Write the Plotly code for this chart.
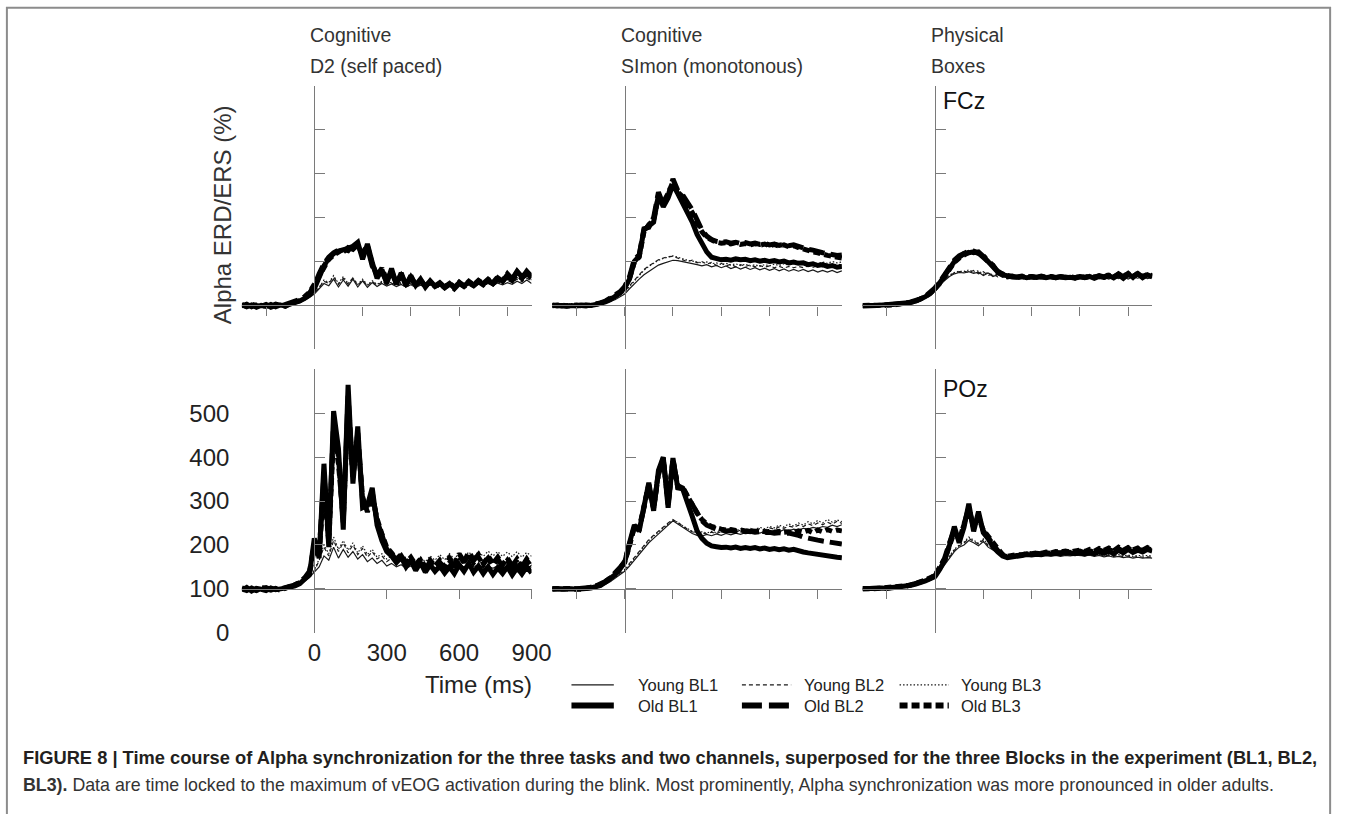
import plotly.graph_objects as go

W, H = 1358, 814

# ---------------- data ----------------
time_ms = [-300, -280, -260, -240, -220, -200, -180, -160, -140, -120, -100,
           -80, -60, -40, -20, 0, 20, 40, 60, 80, 100,
           120, 140, 160, 180, 200, 220, 240, 260, 280, 300,
           320, 340, 360, 380, 400, 420, 440, 460, 480, 500,
           520, 540, 560, 580, 600, 620, 640, 660, 680, 700,
           720, 740, 760, 780, 800, 820, 840, 860, 880, 900]

series_names = ["Young BL1", "Young BL2", "Young BL3", "Old BL1", "Old BL2", "Old BL3"]
task_titles = [("Cognitive", "D2 (self paced)"),
               ("Cognitive", "SImon (monotonous)"),
               ("Physical", "Boxes")]
channel_labels = ["FCz", "POz"]
x_tick_labels = ["0", "300", "600", "900"]
y_tick_labels = ["0", "100", "200", "300", "400", "500"]

# --- D2, FCz ---
d2_fcz_young_bl1 = [101, 99, 100, 98, 100, 101, 99, 100, 101, 102, 103,
                    105, 108, 112, 118, 126, 138, 150, 145, 160, 142,
                    158, 144, 160, 142, 156, 141, 152, 143, 150, 144,
                    149, 143, 148, 142, 147, 141, 146, 142, 147, 143,
                    146, 142, 147, 144, 148, 143, 147, 144, 149, 145,
                    150, 146, 151, 147, 152, 148, 155, 150, 158, 150]
d2_fcz_young_bl2 = [100, 101, 99, 100, 102, 100, 99, 101, 100, 103, 104,
                    106, 109, 114, 120, 128, 142, 155, 150, 165, 148,
                    162, 148, 163, 146, 158, 145, 155, 146, 153, 147,
                    151, 146, 150, 145, 149, 144, 148, 145, 150, 146,
                    149, 145, 150, 147, 151, 146, 150, 148, 152, 149,
                    153, 149, 155, 151, 157, 152, 160, 154, 162, 156]
d2_fcz_young_bl3 = [99, 100, 101, 99, 100, 102, 100, 99, 102, 101, 104,
                    105, 110, 113, 119, 130, 140, 158, 152, 168, 150,
                    166, 150, 162, 148, 160, 147, 156, 148, 155, 149,
                    153, 148, 152, 147, 151, 146, 150, 147, 152, 148,
                    151, 147, 152, 149, 153, 148, 152, 150, 154, 151,
                    155, 151, 157, 153, 160, 155, 163, 157, 166, 158]
d2_fcz_old_bl1 = [102, 97, 101, 96, 100, 98, 102, 97, 101, 99, 103,
                  106, 110, 116, 124, 138, 165, 190, 208, 218, 224,
                  226, 230, 235, 244, 205, 240, 198, 162, 182, 150,
                  184, 148, 174, 145, 168, 146, 160, 142, 156, 144,
                  152, 142, 150, 140, 152, 145, 153, 146, 156, 148,
                  158, 150, 163, 155, 170, 160, 178, 165, 175, 162]
d2_fcz_old_bl2 = [99, 103, 97, 101, 98, 102, 96, 100, 98, 102, 104,
                  107, 112, 118, 128, 145, 172, 195, 210, 220, 226,
                  222, 232, 228, 238, 214, 232, 190, 170, 176, 155,
                  178, 152, 170, 147, 165, 148, 158, 144, 154, 142,
                  150, 140, 148, 138, 150, 143, 151, 145, 154, 147,
                  156, 149, 160, 152, 166, 157, 172, 162, 178, 166]
d2_fcz_old_bl3 = [101, 98, 103, 99, 97, 101, 99, 103, 100, 98, 105,
                  108, 111, 120, 130, 148, 168, 188, 205, 215, 220,
                  228, 225, 238, 235, 220, 236, 195, 168, 185, 158,
                  175, 150, 168, 149, 162, 146, 157, 145, 153, 143,
                  149, 141, 151, 142, 153, 144, 155, 147, 157, 150,
                  160, 152, 165, 156, 172, 160, 176, 163, 172, 168]

# --- Simon, FCz ---
simon_fcz_young_bl1 = [100, 100, 99, 100, 101, 100, 100, 101, 101, 102, 104,
                       106, 109, 113, 119, 126, 138, 150, 160, 170, 178,
                       185, 192, 196, 200, 203, 202, 200, 197, 195, 193,
                       190, 193, 188, 191, 186, 190, 184, 188, 183, 187,
                       182, 186, 181, 185, 180, 184, 179, 183, 178, 182,
                       178, 182, 177, 181, 176, 180, 176, 180, 175, 179]
simon_fcz_young_bl2 = [100, 101, 100, 99, 100, 101, 100, 100, 102, 103, 105,
                       108, 112, 117, 124, 132, 145, 158, 170, 182, 190,
                       198, 204, 208, 211, 212, 208, 205, 200, 203, 197,
                       200, 194, 198, 191, 196, 190, 194, 188, 193, 189,
                       192, 188, 191, 187, 190, 186, 189, 185, 189, 186,
                       189, 186, 190, 187, 191, 188, 193, 190, 195, 192]
simon_fcz_young_bl3 = [99, 100, 100, 101, 100, 99, 101, 100, 101, 103, 105,
                       108, 111, 116, 123, 131, 143, 156, 168, 180, 189,
                       197, 203, 207, 210, 213, 210, 206, 203, 201, 199,
                       197, 199, 195, 197, 193, 196, 192, 195, 191, 194,
                       190, 193, 189, 193, 190, 194, 191, 195, 192, 196,
                       193, 197, 194, 198, 195, 199, 196, 200, 197, 199]
simon_fcz_old_bl1 = [101, 99, 100, 98, 100, 99, 101, 100, 100, 102, 104,
                     108, 113, 120, 128, 140, 160, 200, 212, 272, 282,
                     290, 352, 325, 345, 375, 355, 335, 315, 290, 262,
                     240, 222, 210, 206, 204, 205, 203, 206, 204, 205,
                     202, 204, 201, 203, 200, 202, 199, 201, 197, 199,
                     196, 197, 193, 195, 191, 193, 189, 191, 187, 189]
simon_fcz_old_bl2 = [100, 101, 99, 100, 99, 101, 100, 99, 101, 103, 106,
                     110, 116, 122, 131, 143, 165, 205, 215, 275, 278,
                     300, 358, 330, 350, 388, 362, 352, 335, 318, 295,
                     272, 258, 250, 246, 244, 245, 242, 244, 241, 243,
                     240, 242, 239, 241, 238, 240, 237, 239, 236, 238,
                     234, 232, 228, 226, 222, 220, 218, 216, 214, 215]
simon_fcz_old_bl3 = [99, 100, 101, 99, 100, 100, 99, 101, 100, 102, 105,
                     109, 114, 121, 129, 141, 162, 198, 210, 268, 284,
                     295, 348, 335, 355, 382, 358, 348, 330, 312, 288,
                     268, 255, 248, 244, 242, 243, 240, 243, 239, 241,
                     238, 241, 237, 240, 236, 239, 235, 238, 234, 236,
                     232, 228, 225, 222, 220, 216, 214, 212, 210, 208]

# --- Boxes, FCz ---
boxes_fcz_young_bl1 = [100, 100, 100, 101, 100, 100, 101, 102, 103, 104, 106,
                       108, 112, 117, 124, 132, 145, 157, 166, 172, 175,
                       174, 177, 173, 176, 168, 174, 166, 170, 164, 167,
                       163, 166, 162, 165, 162, 164, 161, 164, 162, 164,
                       161, 164, 162, 163, 161, 164, 162, 165, 161, 164,
                       160, 165, 161, 166, 160, 165, 162, 166, 161, 164]
boxes_fcz_young_bl2 = [100, 101, 100, 100, 101, 100, 101, 102, 103, 105, 107,
                       109, 113, 118, 125, 134, 147, 159, 168, 174, 177,
                       178, 175, 180, 172, 177, 168, 172, 165, 168, 164,
                       166, 163, 165, 162, 164, 162, 165, 163, 164, 162,
                       165, 162, 164, 163, 165, 162, 166, 163, 165, 162,
                       166, 163, 167, 162, 168, 163, 167, 164, 168, 165]
boxes_fcz_young_bl3 = [101, 100, 100, 100, 100, 101, 101, 102, 104, 105, 107,
                       109, 114, 119, 126, 135, 148, 160, 169, 175, 178,
                       177, 181, 176, 179, 171, 175, 168, 171, 166, 168,
                       165, 167, 164, 166, 163, 166, 164, 166, 163, 166,
                       164, 166, 163, 167, 164, 166, 163, 167, 164, 168,
                       165, 168, 164, 169, 165, 170, 166, 170, 165, 168]
boxes_fcz_old_bl1 = [100, 99, 100, 100, 101, 100, 101, 102, 103, 105, 107,
                     110, 114, 120, 128, 138, 152, 168, 185, 200, 210,
                     218, 220, 222, 219, 210, 200, 188, 176, 170, 166,
                     165, 164, 166, 163, 165, 164, 166, 163, 165, 163,
                     165, 163, 164, 162, 165, 163, 166, 162, 166, 164,
                     168, 163, 170, 162, 171, 165, 172, 163, 170, 165]
boxes_fcz_old_bl2 = [99, 100, 101, 100, 100, 101, 100, 102, 104, 105, 108,
                     111, 115, 121, 129, 140, 154, 170, 188, 203, 213,
                     220, 224, 220, 222, 212, 203, 190, 178, 171, 167,
                     166, 165, 167, 164, 166, 164, 167, 164, 166, 164,
                     166, 164, 165, 163, 166, 164, 167, 164, 168, 165,
                     170, 164, 172, 165, 174, 166, 173, 165, 172, 167]
boxes_fcz_old_bl3 = [100, 100, 99, 101, 100, 100, 101, 102, 103, 104, 107,
                     110, 114, 120, 127, 137, 150, 166, 183, 198, 208,
                     215, 221, 224, 218, 214, 198, 192, 175, 172, 165,
                     167, 163, 166, 164, 166, 163, 165, 164, 166, 163,
                     165, 164, 166, 163, 167, 164, 166, 165, 167, 164,
                     169, 165, 171, 166, 173, 164, 174, 166, 171, 168]

# --- D2, POz ---
d2_poz_young_bl1 = [98, 102, 99, 101, 100, 98, 101, 99, 100, 102, 103,
                    106, 110, 118, 126, 138, 150, 175, 165, 195, 170,
                    190, 172, 185, 168, 178, 162, 170, 158, 165, 152,
                    158, 150, 155, 147, 152, 146, 150, 145, 152, 146,
                    151, 147, 153, 148, 155, 150, 157, 151, 154, 149,
                    152, 147, 153, 148, 151, 147, 152, 148, 153, 149]
d2_poz_young_bl2 = [100, 99, 101, 98, 102, 100, 99, 101, 100, 103, 104,
                    107, 112, 120, 128, 140, 165, 195, 175, 210, 185,
                    205, 182, 200, 178, 192, 172, 185, 168, 175, 162,
                    170, 158, 165, 155, 162, 153, 160, 152, 162, 155,
                    163, 156, 165, 158, 168, 160, 170, 162, 172, 162,
                    170, 160, 168, 158, 166, 157, 165, 156, 164, 158]
d2_poz_young_bl3 = [101, 100, 98, 100, 99, 101, 100, 98, 101, 102, 105,
                    108, 113, 121, 130, 142, 168, 200, 180, 218, 190,
                    210, 188, 205, 182, 198, 178, 190, 172, 180, 168,
                    175, 165, 172, 162, 170, 160, 172, 162, 175, 165,
                    178, 166, 180, 168, 182, 170, 184, 172, 185, 174,
                    186, 175, 185, 174, 184, 173, 185, 172, 183, 174]
d2_poz_old_bl1 = [97, 103, 95, 101, 99, 96, 102, 98, 100, 101, 104,
                  107, 112, 122, 132, 215, 170, 385, 195, 505, 420,
                  235, 565, 340, 470, 285, 290, 330, 245, 210, 185,
                  175, 160, 172, 150, 165, 142, 160, 138, 155, 140,
                  152, 136, 150, 135, 155, 140, 158, 138, 152, 135,
                  150, 133, 148, 135, 150, 132, 148, 134, 150, 136]
d2_poz_old_bl2 = [100, 96, 102, 97, 103, 99, 97, 101, 99, 103, 106,
                  109, 115, 125, 140, 200, 180, 360, 210, 480, 400,
                  250, 540, 355, 455, 300, 285, 320, 255, 220, 190,
                  180, 165, 175, 158, 170, 150, 165, 145, 162, 148,
                  160, 145, 165, 150, 175, 160, 185, 165, 178, 158,
                  170, 152, 168, 150, 165, 148, 166, 150, 168, 152]
d2_poz_old_bl3 = [102, 98, 100, 96, 101, 103, 98, 100, 97, 101, 105,
                  108, 114, 124, 136, 190, 175, 340, 205, 455, 385,
                  260, 510, 360, 440, 310, 275, 310, 260, 225, 195,
                  182, 168, 178, 160, 172, 155, 168, 150, 165, 152,
                  165, 150, 170, 155, 180, 162, 178, 160, 172, 155,
                  175, 158, 172, 155, 170, 152, 168, 150, 165, 150]

# --- Simon, POz ---
simon_poz_young_bl1 = [100, 100, 99, 100, 100, 101, 100, 101, 102, 104, 106,
                       110, 116, 124, 132, 140, 152, 165, 178, 192, 205,
                       215, 225, 235, 245, 255, 248, 240, 232, 226, 222,
                       220, 224, 221, 225, 222, 226, 223, 227, 224, 228,
                       226, 229, 227, 231, 229, 233, 230, 235, 232, 236,
                       234, 238, 236, 240, 238, 242, 240, 245, 242, 246]
simon_poz_young_bl2 = [100, 101, 100, 100, 101, 100, 101, 102, 103, 105, 108,
                       112, 118, 126, 135, 144, 158, 172, 185, 200, 212,
                       222, 232, 242, 250, 258, 250, 242, 236, 230, 226,
                       228, 225, 229, 226, 230, 227, 232, 229, 234, 231,
                       235, 232, 237, 234, 239, 236, 241, 238, 243, 240,
                       245, 242, 248, 244, 250, 246, 252, 247, 254, 249]
simon_poz_young_bl3 = [99, 100, 100, 101, 100, 100, 100, 101, 103, 104, 107,
                       111, 117, 125, 133, 142, 155, 170, 183, 197, 210,
                       220, 230, 240, 248, 256, 252, 244, 237, 231, 228,
                       230, 227, 231, 228, 233, 230, 235, 232, 237, 234,
                       238, 235, 240, 237, 242, 239, 245, 241, 248, 243,
                       250, 245, 253, 248, 256, 250, 258, 252, 257, 253]
simon_poz_old_bl1 = [100, 101, 99, 100, 100, 99, 101, 101, 102, 105, 108,
                     115, 122, 132, 145, 160, 205, 245, 232, 290, 342,
                     278, 370, 400, 285, 398, 330, 328, 300, 265, 232,
                     215, 204, 198, 196, 194, 195, 193, 195, 192, 194,
                     192, 194, 191, 193, 190, 192, 189, 191, 188, 190,
                     186, 184, 182, 180, 178, 176, 175, 173, 172, 171]
simon_poz_old_bl2 = [99, 100, 101, 100, 99, 100, 100, 102, 103, 106, 110,
                     117, 125, 135, 148, 162, 200, 240, 235, 285, 335,
                     285, 360, 395, 295, 392, 335, 330, 310, 290, 270,
                     255, 245, 240, 236, 234, 232, 233, 231, 232, 230,
                     231, 229, 230, 228, 229, 227, 228, 226, 227, 225,
                     222, 218, 215, 213, 211, 209, 207, 205, 203, 202]
simon_poz_old_bl3 = [100, 99, 100, 101, 100, 100, 99, 101, 103, 105, 109,
                     116, 123, 133, 146, 161, 198, 242, 238, 288, 338,
                     282, 365, 398, 292, 395, 332, 332, 312, 292, 272,
                     258, 248, 242, 238, 236, 234, 235, 233, 234, 232,
                     233, 231, 232, 230, 231, 229, 231, 229, 230, 228,
                     232, 229, 233, 228, 234, 230, 235, 231, 234, 232]

# --- Boxes, POz ---
boxes_poz_young_bl1 = [100, 100, 101, 100, 100, 101, 102, 103, 104, 105, 107,
                       110, 113, 117, 122, 128, 140, 155, 170, 185, 195,
                       200, 210, 205, 198, 208, 195, 188, 180, 175, 172,
                       172, 174, 173, 175, 174, 176, 175, 177, 175, 176,
                       174, 176, 175, 177, 176, 175, 177, 174, 176, 173,
                       175, 172, 174, 171, 173, 170, 172, 170, 171, 170]
boxes_poz_young_bl2 = [100, 101, 100, 100, 101, 101, 102, 103, 105, 106, 108,
                       111, 114, 118, 123, 130, 142, 158, 173, 188, 198,
                       204, 215, 208, 202, 212, 198, 190, 182, 177, 174,
                       174, 176, 175, 177, 176, 178, 177, 179, 177, 178,
                       176, 178, 177, 179, 178, 177, 179, 176, 178, 175,
                       177, 174, 176, 173, 175, 172, 174, 172, 173, 172]
boxes_poz_young_bl3 = [101, 100, 100, 101, 101, 102, 102, 103, 104, 106, 108,
                       111, 115, 119, 124, 131, 143, 160, 175, 190, 200,
                       206, 218, 210, 204, 214, 200, 192, 184, 178, 175,
                       176, 178, 177, 179, 178, 180, 179, 181, 179, 180,
                       178, 180, 179, 181, 180, 179, 181, 178, 180, 177,
                       179, 176, 178, 175, 177, 174, 176, 175, 176, 175]
boxes_poz_old_bl1 = [100, 101, 100, 101, 102, 101, 102, 103, 104, 106, 108,
                     111, 114, 118, 123, 128, 145, 165, 200, 242, 205,
                     240, 294, 231, 276, 228, 214, 196, 184, 175, 171,
                     172, 174, 176, 178, 177, 179, 178, 180, 179, 181,
                     180, 182, 181, 180, 182, 179, 183, 180, 185, 181,
                     186, 180, 188, 182, 190, 183, 188, 184, 190, 186]
boxes_poz_old_bl2 = [100, 100, 101, 102, 101, 102, 103, 103, 105, 106, 109,
                     112, 115, 119, 124, 130, 148, 170, 205, 235, 210,
                     245, 285, 238, 268, 232, 218, 200, 187, 177, 173,
                     174, 176, 178, 180, 179, 181, 180, 182, 181, 183,
                     182, 185, 183, 184, 186, 182, 187, 183, 189, 184,
                     190, 184, 192, 185, 193, 186, 191, 187, 192, 188]
boxes_poz_old_bl3 = [101, 100, 100, 101, 102, 103, 102, 104, 105, 107, 109,
                     112, 116, 120, 125, 131, 150, 168, 198, 230, 212,
                     248, 280, 240, 262, 234, 220, 202, 188, 178, 174,
                     176, 178, 177, 181, 180, 182, 181, 184, 182, 185,
                     184, 186, 184, 187, 188, 185, 190, 186, 192, 188,
                     193, 187, 195, 188, 194, 189, 193, 188, 194, 190]

panel_series = [
    [d2_fcz_young_bl1, d2_fcz_young_bl2, d2_fcz_young_bl3, d2_fcz_old_bl1, d2_fcz_old_bl2, d2_fcz_old_bl3],
    [simon_fcz_young_bl1, simon_fcz_young_bl2, simon_fcz_young_bl3, simon_fcz_old_bl1, simon_fcz_old_bl2, simon_fcz_old_bl3],
    [boxes_fcz_young_bl1, boxes_fcz_young_bl2, boxes_fcz_young_bl3, boxes_fcz_old_bl1, boxes_fcz_old_bl2, boxes_fcz_old_bl3],
    [d2_poz_young_bl1, d2_poz_young_bl2, d2_poz_young_bl3, d2_poz_old_bl1, d2_poz_old_bl2, d2_poz_old_bl3],
    [simon_poz_young_bl1, simon_poz_young_bl2, simon_poz_young_bl3, simon_poz_old_bl1, simon_poz_old_bl2, simon_poz_old_bl3],
    [boxes_poz_young_bl1, boxes_poz_young_bl2, boxes_poz_young_bl3, boxes_poz_old_bl1, boxes_poz_old_bl2, boxes_poz_old_bl3],
]
for p in panel_series:
    for s in p:
        if len(s) != len(time_ms):
            raise ValueError("length mismatch %d" % len(s))

# ---------------- styling ----------------
FONT = "Liberation Sans, Arial, Helvetica, sans-serif"
AXIS_COLOR = "#7a7a7a"
line_styles = {
    "Young BL1": dict(color="#1a1a1a", width=1.2, dash="solid"),
    "Young BL2": dict(color="#1a1a1a", width=1.2, dash="4px,3px"),
    "Young BL3": dict(color="#1a1a1a", width=1.2, dash="1.5px,2px"),
    "Old BL1": dict(color="#000000", width=5, dash="solid"),
    "Old BL2": dict(color="#000000", width=5, dash="16px,6px"),
    "Old BL3": dict(color="#000000", width=5, dash="7px,4px"),
}


def pxx(p):
    return p / W


def pxy(p):
    return 1 - p / H


axis_px_x = [319, 634, 949, 319, 634, 949]
zero_px_y = [355, 355, 355, 643, 643, 643]   # pixel row of value 0
unit = 0.446                                  # px per % unit
ms_px = 0.245                                 # px per ms

fig = go.Figure()
layout_axes = {}
for i in range(6):
    k = "" if i == 0 else str(i + 1)
    ax = axis_px_x[i]
    y0 = zero_px_y[i]
    xdom = [pxx(ax - 300 * ms_px), pxx(ax + 900 * ms_px)]
    ydom = [pxy(y0), pxy(y0 - 600 * unit)]
    for name, ys in zip(series_names, panel_series[i]):
        fig.add_trace(go.Scatter(
            x=time_ms, y=ys, mode="lines", name=name,
            line=line_styles[name], showlegend=False,
            xaxis="x" + k, yaxis="y" + k, hoverinfo="skip"))
    bottom_left = (i == 3)
    layout_axes["xaxis" + k] = dict(
        domain=xdom, range=[-300, 900], anchor="free",
        position=pxy(y0 - 100 * unit),
        showline=True, linecolor=AXIS_COLOR, linewidth=1.2,
        ticks="outside", ticklen=9, tickwidth=1.2, tickcolor=AXIS_COLOR,
        tickvals=[0, 300, 600, 900] if bottom_left else [-200, 0, 200, 400, 600, 800],
        ticktext=x_tick_labels if bottom_left else None,
        showticklabels=bottom_left,
        ticklabelstandoff=33 if bottom_left else None,
        tickfont=dict(family=FONT, size=24, color="#222"),
        showgrid=False, zeroline=False, fixedrange=True)
    layout_axes["yaxis" + k] = dict(
        domain=ydom, range=[0, 600], anchor="free", position=pxx(ax),
        showline=True, linecolor=AXIS_COLOR, linewidth=1.2,
        ticks="inside", ticklen=10, tickwidth=1.2, tickcolor=AXIS_COLOR,
        tickvals=[0, 100, 200, 300, 400, 500],
        ticktext=y_tick_labels,
        showticklabels=bottom_left,
        ticklabelstandoff=80 if bottom_left else None,
        tickfont=dict(family=FONT, size=24, color="#222"),
        showgrid=False, zeroline=False, fixedrange=True)

annotations = []
# task titles
for j, (l1, l2) in enumerate(task_titles):
    xl = axis_px_x[j] - 6
    annotations.append(dict(x=pxx(xl), y=pxy(36), text=l1, showarrow=False,
                            xref="paper", yref="paper", xanchor="left", yanchor="middle",
                            font=dict(family=FONT, size=19.5, color="#333")))
    annotations.append(dict(x=pxx(xl), y=pxy(67), text=l2, showarrow=False,
                            xref="paper", yref="paper", xanchor="left", yanchor="middle",
                            font=dict(family=FONT, size=19.5, color="#333")))
# channel labels
for lab, yy in zip(channel_labels, [103, 395]):
    annotations.append(dict(x=pxx(955), y=pxy(yy), text=lab, showarrow=False,
                            xref="paper", yref="paper", xanchor="left", yanchor="middle",
                            font=dict(family=FONT, size=23, color="#111")))
# y title
annotations.append(dict(x=pxx(226), y=pxy(218), text="Alpha ERD/ERS (%)", textangle=-90,
                        showarrow=False, xref="paper", yref="paper",
                        xanchor="center", yanchor="middle",
                        font=dict(family=FONT, size=24, color="#333")))
# x title
annotations.append(dict(x=pxx(486), y=pxy(696), text="Time (ms)", showarrow=False,
                        xref="paper", yref="paper", xanchor="center", yanchor="middle",
                        font=dict(family=FONT, size=24, color="#222")))

# manual legend (keys as shapes, labels as annotations)
shapes = []
legend_cols = [(580, 623, 646), (753, 803, 814), (913, 963, 973)]
legend_rows = [696, 717]
for r, grp in enumerate(["Young", "Old"]):
    for c in range(3):
        name = "%s BL%d" % (grp, c + 1)
        x0, x1, xt = legend_cols[c]
        st = line_styles[name]
        w = st["width"] if grp == "Young" else 6
        dash = st["dash"]
        if grp == "Old" and c == 1:
            dash = "20px,7px"
        if grp == "Old" and c == 2:
            dash = "8px,4px"
        shapes.append(dict(type="line", xref="paper", yref="paper",
                           x0=pxx(x0), x1=pxx(x1), y0=pxy(legend_rows[r]), y1=pxy(legend_rows[r]),
                           line=dict(color=st["color"], width=w, dash=dash)))
        annotations.append(dict(x=pxx(xt), y=pxy(legend_rows[r]), text=name, showarrow=False,
                                xref="paper", yref="paper", xanchor="left", yanchor="middle",
                                font=dict(family=FONT, size=16.5, color="#222")))

# caption
cap1 = ("<b>FIGURE 8 | Time course of Alpha synchronization for the three tasks and two channels, "
        "superposed for the three Blocks in the experiment (BL1, BL2,</b>")
cap2 = ("<b>BL3).</b> Data are time locked to the maximum of vEOG activation during the blink. "
        "Most prominently, Alpha synchronization was more pronounced in older adults.")
annotations.append(dict(x=pxx(21), y=pxy(770), text=cap1, showarrow=False,
                        xref="paper", yref="paper", xanchor="left", yanchor="middle",
                        font=dict(family=FONT, size=18.3, color="#231f20")))
annotations.append(dict(x=pxx(21), y=pxy(798), text=cap2, showarrow=False,
                        xref="paper", yref="paper", xanchor="left", yanchor="middle",
                        font=dict(family=FONT, size=17.8, color="#333")))

# outer frame
shapes.append(dict(type="rect", xref="paper", yref="paper",
                   x0=pxx(7), x1=pxx(1350), y0=pxy(840), y1=pxy(8),
                   line=dict(color="#8c8c8c", width=2), fillcolor="rgba(0,0,0,0)", layer="below"))

fig.update_layout(
    width=W, height=H, autosize=False,
    margin=dict(l=0, r=0, t=0, b=0),
    paper_bgcolor="white", plot_bgcolor="white",
    showlegend=False,
    annotations=annotations, shapes=shapes,
    font=dict(family=FONT),
    **layout_axes)

fig.write_html("out.html", config={"displayModeBar": False})
